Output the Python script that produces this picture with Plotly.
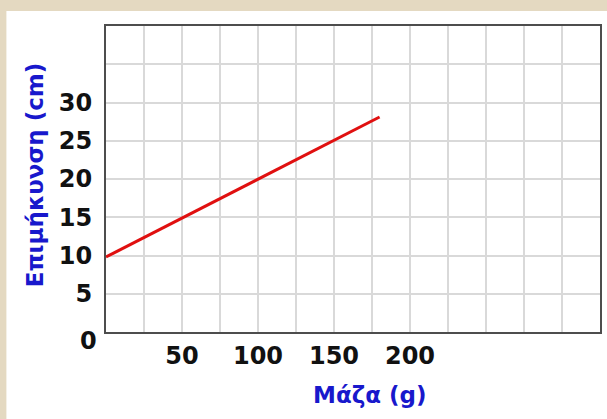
import plotly.graph_objects as go

# data
mass_g = [0, 180]
extension_cm = [9.8, 28.1]

x_tick_vals = [50, 100, 150, 200]
y_tick_vals = [5, 10, 15, 20, 25, 30]
origin_label = "0"

x_title = "Μάζα (g)"
y_title = "Επιμήκυνση (cm)"

W, H = 607, 419
L, R, T, B = 106, 5, 26, 87
pw, ph = W - L - R, H - T - B

FONT = "DejaVu Sans"
BLUE = "#1818cc"
TICK_FONT = dict(family=FONT, size=24, color="#111111", weight="bold")
TITLE_FONT = dict(family=FONT, size=23, color=BLUE, weight="bold")


def px_x(p):
    return (p - L) / pw


def px_y(p):
    return (H - B - p) / ph


fig = go.Figure()

fig.add_trace(go.Scatter(
    x=mass_g,
    y=extension_cm,
    mode="lines",
    line=dict(color="#e01010", width=3),
    showlegend=False,
))

# white card on the beige page
fig.add_shape(type="rect", xref="paper", yref="paper", layer="below",
              x0=px_x(6), x1=px_x(W + 5), y0=px_y(H + 5), y1=px_y(11),
              fillcolor="white", line=dict(width=0))

axis_common = dict(
    showline=True, mirror=True, linecolor="#4d4d4d", linewidth=2,
    showgrid=False, zeroline=False, ticks="",
    tickfont=TICK_FONT,
    minor=dict(showgrid=True, gridcolor="#d9d9d9", gridwidth=1.5),
)

fig.update_xaxes(axis_common, range=[0, 325], tickvals=x_tick_vals,
                 ticklabelstandoff=1)
fig.update_xaxes(minor=dict(tick0=0, dtick=25))
fig.update_yaxes(axis_common, range=[0, 40], tickvals=y_tick_vals,
                 ticklabelstandoff=7)
fig.update_yaxes(minor=dict(tick0=0, dtick=5))

fig.add_annotation(x=0, y=0, xref="x", yref="y", text=origin_label,
                   showarrow=False, xanchor="right", yanchor="middle",
                   xshift=-7, yshift=-9, font=TICK_FONT)

fig.add_annotation(x=px_x(371), y=px_y(395), xref="paper", yref="paper",
                   xanchor="center", yanchor="middle",
                   text=x_title, showarrow=False, font=TITLE_FONT)
fig.add_annotation(x=px_x(35), y=px_y(175), xref="paper", yref="paper",
                   xanchor="center", yanchor="middle",
                   text=y_title, showarrow=False, textangle=-90,
                   font=TITLE_FONT)

fig.update_layout(
    width=W, height=H,
    margin=dict(l=L, r=R, t=T, b=B),
    paper_bgcolor="#e4d9c1",
    plot_bgcolor="white",
)

fig.write_html("out.html", config={"displayModeBar": False},
               post_script="document.body.style.margin='0';")
